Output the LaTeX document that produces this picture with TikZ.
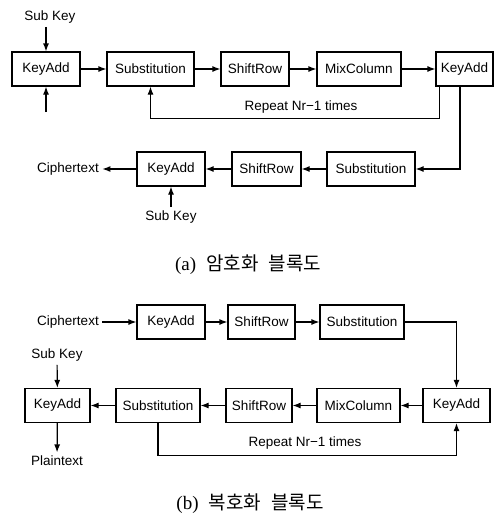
\documentclass[tikz,border=0pt]{standalone}
\usepackage{fontspec}
\setmainfont{Liberation Sans}
\newfontfamily\capfont{Liberation Serif}
\newfontfamily\kofont{Noto Sans CJK KR}
\usetikzlibrary{arrows.meta,calc}

\begin{document}
\begin{tikzpicture}[x=1pt, y=-1pt, font=\fontsize{13.5}{15}\selectfont,
        every path/.style={line width=1.2pt, >={Latex[length=8pt,width=6pt]}},
        blk/.style={draw, minimum height=34pt, inner sep=0pt},
        lbl/.style={inner sep=3pt},
        captxt/.style={font=\fontsize{19}{21}\selectfont}]
    \useasboundingbox (0,0) rectangle (496,517);

    % (a) encryption
    \node[blk, minimum width=68pt] (ka1) at (46,69) {KeyAdd};
    \node[blk, minimum width=87pt] (sub1) at (150.5,69) {Substitution};
    \node[blk, minimum width=68pt] (sr1) at (255,69) {ShiftRow};
    \node[blk, minimum width=84pt] (mc1) at (359,69) {MixColumn};
    \node[blk, minimum width=57pt] (ka2) at (464.5,69) {KeyAdd};
    \node[blk, minimum width=88pt] (sub2) at (371,169) {Substitution};
    \node[blk, minimum width=69pt] (sr2) at (266.5,169) {ShiftRow};
    \node[blk, minimum width=68pt] (ka3) at (171,169) {KeyAdd};
    \node[lbl] (sk1) at (50,17) {Sub Key};
    \node[lbl] (ct1) at (68,169) {Ciphertext};
    \node[lbl] (sk2) at (171,217) {Sub Key};
    \node[lbl] (rp1) at (301,107) {Repeat Nr−1 times};
    \coordinate (in1) at (46,112);

    \draw[->] (sk1.south -| ka1.north) -- (ka1.north);
    \draw[->] (in1) -- (ka1.south);
    \draw[->] (ka1) -- (sub1);
    \draw[->] (sub1) -- (sr1);
    \draw[->] (sr1) -- (mc1);
    \draw[->] (mc1) -- (ka2);
    \draw[->] (ka2.south west) ++(4,0) -- ++(0,32) -| (sub1.south);
    \draw[->] (ka2.south) ++(-4.5,0) |- (sub2.east);
    \draw[->] (sub2) -- (sr2);
    \draw[->] (sr2) -- (ka3);
    \draw[->] (ka3) -- (ct1);
    \draw[->] (sk2) -- (ka3);

    \node[captxt] (capa) at (248,265) {\capfont (a)\hspace{10pt}\kofont 암호화\hspace{10pt}블록도};

    % (b) decryption
    \node[lbl] (ct2) at (68,322) {Ciphertext};
    \node[blk, minimum width=68pt] (kb1) at (171,322) {KeyAdd};
    \node[blk, minimum width=67pt] (sb1) at (261.5,322) {ShiftRow};
    \node[blk, minimum width=84pt] (sb2) at (362,322) {Substitution};
    \node[lbl] (sk3) at (57,355) {Sub Key};
    \node[blk, minimum width=65pt] (kl) at (57.5,405.5) {KeyAdd};
    \node[blk, minimum width=84pt] (subl) at (158,405.5) {Substitution};
    \node[blk, minimum width=66pt] (srl) at (259,405.5) {ShiftRow};
    \node[blk, minimum width=83pt] (mcl) at (358.5,405.5) {MixColumn};
    \node[blk, minimum width=67pt] (kr) at (456.5,405.5) {KeyAdd};
    \node[lbl] (pt) at (57,461) {Plaintext};
    \node[lbl] (rp2) at (305,443) {Repeat Nr−1 times};

    \draw[->] (ct2) -- (kb1);
    \draw[->] (kb1) -- (sb1);
    \draw[->] (sb1) -- (sb2);
    \draw[->] (sb2) -| (kr);
    \draw[->] (sk3) -- (kl);
    \draw[->] (kr) -- (mcl);
    \draw[->] (mcl) -- (srl);
    \draw[->] (srl) -- (subl);
    \draw[->] (subl) -- (kl);
    \draw[->] (kl) -- (pt);
    \draw[->] (subl.south) -- ++(0,32) -| (kr.south);

    \node[captxt] (capb) at (250,504) {\capfont (b)\hspace{10pt}\kofont 복호화\hspace{10pt}블록도};
\end{tikzpicture}
\end{document}
